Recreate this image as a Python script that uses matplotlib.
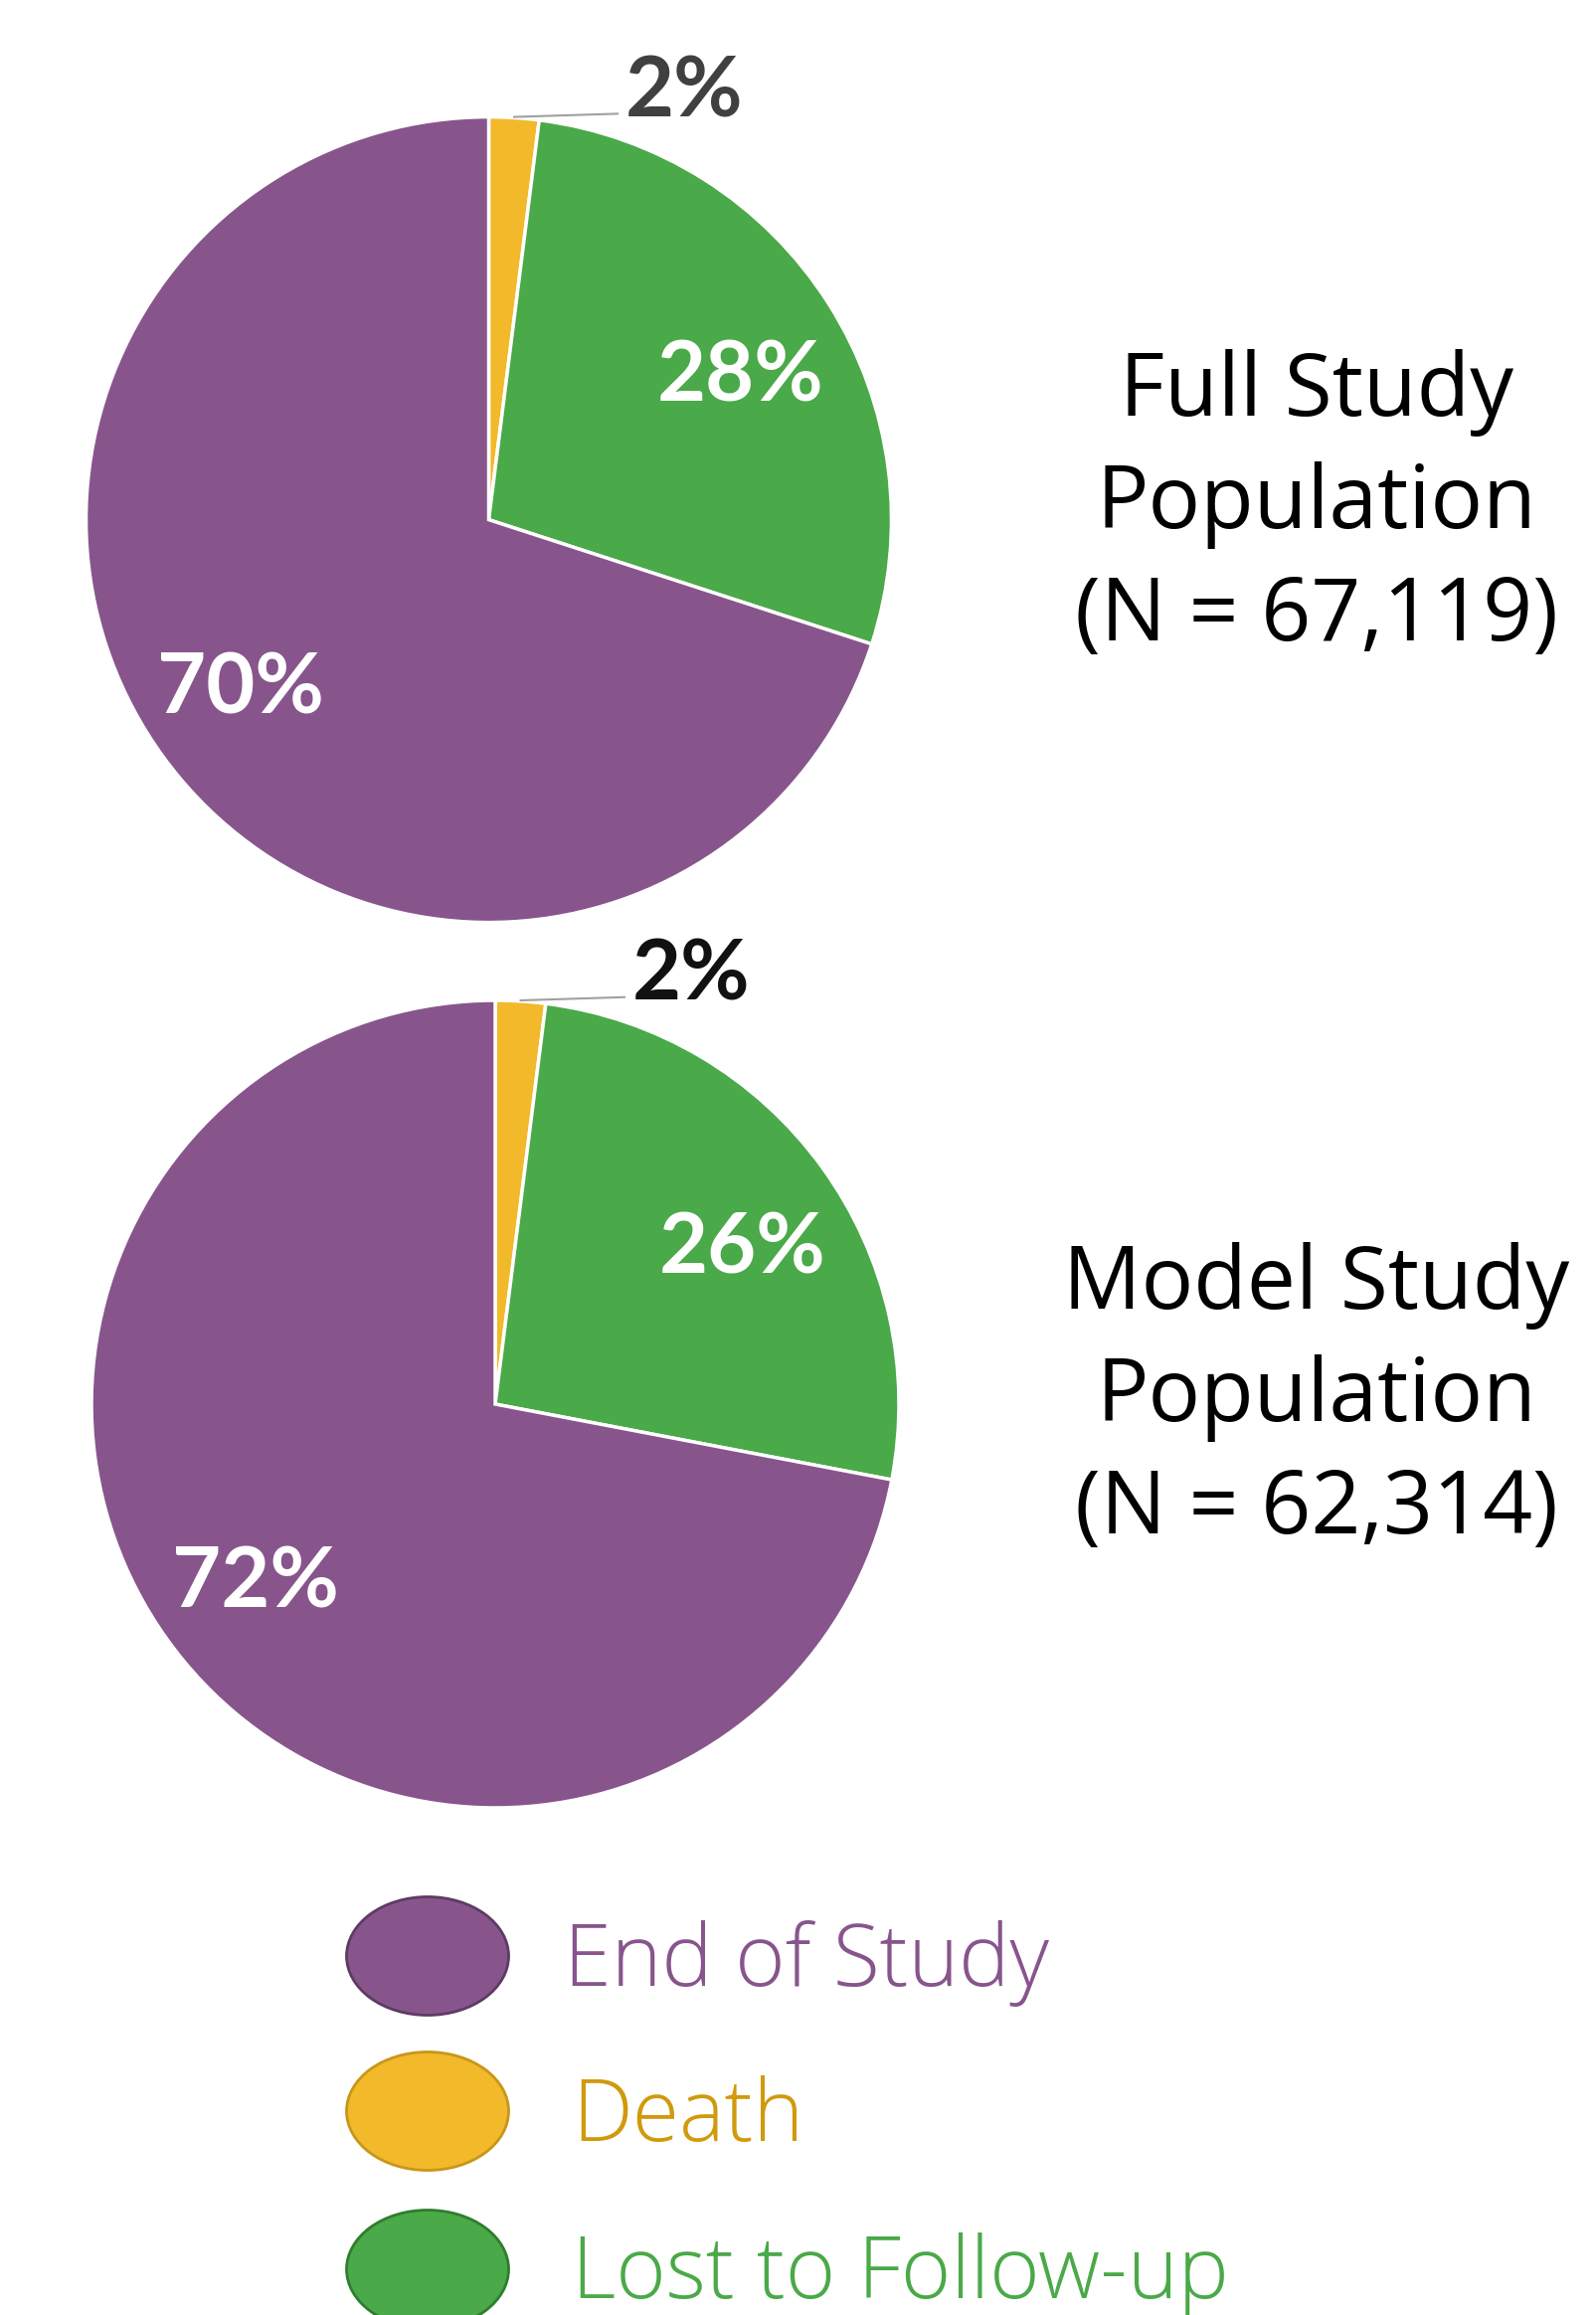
import matplotlib.pyplot as plt
from matplotlib.patches import Ellipse

# Data
categories = ['End of Study', 'Death', 'Lost to Follow-up']
full_values = [70, 2, 28]
model_values = [72, 2, 26]
titles = ['Full Study\nPopulation\n(N = 67,119)', 'Model Study\nPopulation\n(N = 62,314)']

colors = ['#87558C', '#F2B92B', '#4AA948']
edge_colors = ['#5E3B63', '#C8961A', '#2F7D2F']
legend_text_colors = ['#87558C', '#D09A0C', '#4AA948']

# label anchors inside the pie (radius units): lost, end of study
full_label_pos = [(0.626, 0.355), (-0.615, -0.421)]
model_label_pos = [(0.613, 0.384), (-0.594, -0.443)]

W, H = 1605, 2328
fig = plt.figure(figsize=(W / 100, H / 100), dpi=100)

# overlay axes in pixel coordinates for titles / legend
bg = fig.add_axes([0, 0, 1, 1])
bg.set_xlim(0, W)
bg.set_ylim(H, 0)
bg.axis('off')


def draw_pie(values, label_pos, cx, cy, r, small_color, title, title_y):
    ax = fig.add_axes([(cx - r) / W, (H - cy - r) / H, 2 * r / W, 2 * r / H])
    # order clockwise from top: Death, Lost, End of Study
    vals = [values[1], values[2], values[0]]
    cols = [colors[1], colors[2], colors[0]]
    ax.pie(vals, colors=cols, startangle=90, counterclock=False, radius=1,
           wedgeprops=dict(edgecolor='white', linewidth=2.5))
    ax.set_xlim(-1, 1)
    ax.set_ylim(-1, 1)
    ax.set_aspect('equal')
    for (x, y), v in zip(label_pos, vals[1:]):
        ax.text(x, y, '%d%%' % v, color='white', fontsize=61, fontweight='bold',
                family='Lato', ha='center', va='center')
    # small slice label with leader line
    ax.plot([0.063, 0.32], [1.0, 1.008], color='#A0A0A0', lw=1.5, clip_on=False)
    ax.text(0.34, 1.0, '%d%%' % vals[0], color=small_color, fontsize=61,
            fontweight='bold', family='Lato', ha='left', va='baseline')
    bg.text(1324, title_y, title, ha='center', va='center', fontsize=63,
            family='Open Sans', linespacing=1.37, color='black')


draw_pie(full_values, full_label_pos, 491.5, 522.6, 405, '#404040', titles[0], 508)
draw_pie(model_values, model_label_pos, 498, 1412, 406, '#111111', titles[1], 1406)

# legend
leg_y = [1967, 2123, 2282]
for i, lab in enumerate(categories):
    bg.add_patch(Ellipse((430, leg_y[i]), 163, 119, facecolor=colors[i],
                         edgecolor=edge_colors[i], lw=2))
    bg.text(567 if i == 0 else 575, leg_y[i] + 7, lab, color=legend_text_colors[i],
            fontsize=62, family='Open Sans', fontweight='light',
            ha='left', va='center')

fig.savefig('out.png', dpi=100)
